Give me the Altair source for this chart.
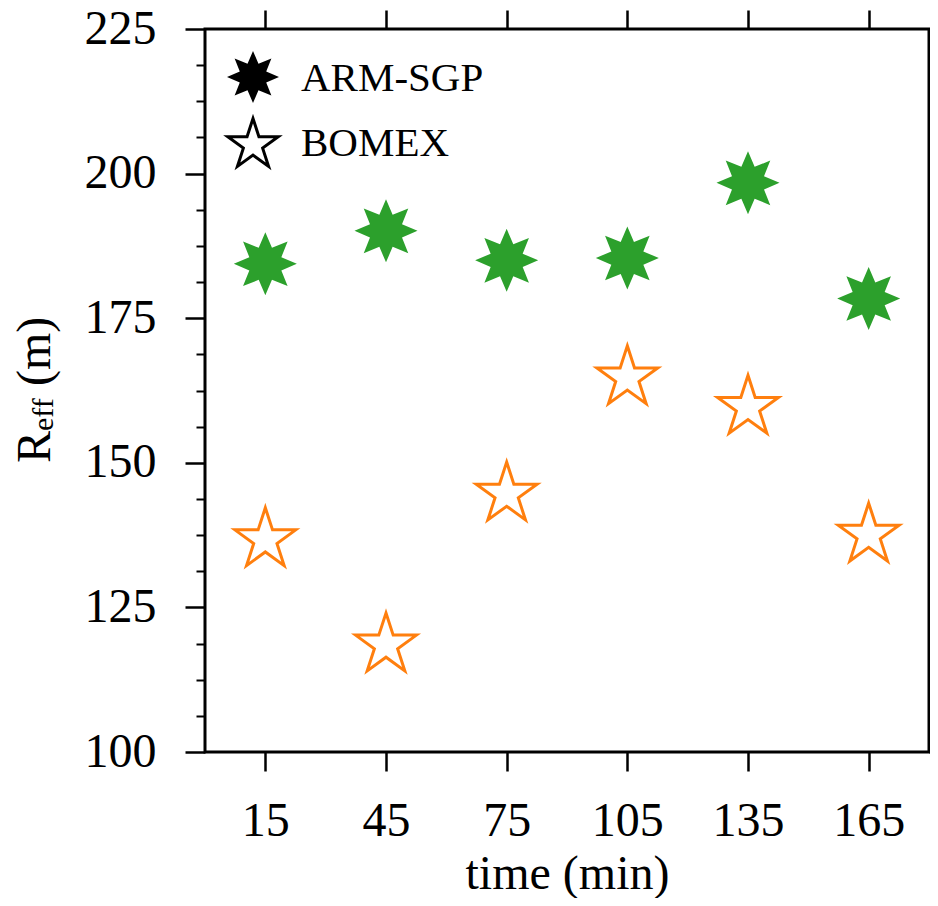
import math
import altair as alt
import pandas as pd

# ---------------- data ----------------
times = [15, 45, 75, 105, 135, 165]
arm_sgp = [184.4, 190.1, 185.0, 185.4, 198.4, 178.4]
bomex = [136.7, 118.5, 144.6, 164.7, 159.6, 137.5]
series_names = ["ARM-SGP", "BOMEX"]
y_major = [100, 125, 150, 175, 200, 225]
y_minor = [106.25, 112.5, 118.75, 131.25, 137.5, 143.75, 156.25, 162.5, 168.75,
           181.25, 187.5, 193.75, 206.25, 212.5, 218.75]
x_title = "time (min)"
y_title_parts = ["R", "eff", "(m)"]

FONT = "Liberation Serif"
GREEN = "#2ca02c"
ORANGE = "#ff7f0e"

df = pd.DataFrame({
    "time": times * 2,
    "value": arm_sgp + bomex,
    "series": [series_names[0]] * len(times) + [series_names[1]] * len(times),
})


def star_path(n, inner):
    pts = []
    for k in range(2 * n):
        a = math.pi * k / n
        r = 1.0 if k % 2 == 0 else inner
        pts.append((r * math.sin(a), -r * math.cos(a)))
    return "M" + "L".join(f"{x:.4f},{y:.4f}" for x, y in pts) + "Z"


STAR8 = star_path(8, 0.55)
STAR5 = star_path(5, 0.382)

xs = alt.Scale(domain=[0, 180], nice=False, zero=False)
ys = alt.Scale(domain=[100, 225], nice=False, zero=False)

ax_bottom = alt.Axis(orient="bottom", values=times, tickSize=19, tickWidth=2.5,
                     labelPadding=26, title=x_title, titleY=136,
                     titleBaseline="alphabetic", domain=False, grid=False)
ax_top = alt.Axis(orient="top", values=times, tickSize=19, tickWidth=2.5,
                  labels=False, title=None, domain=False, grid=False)
ax_left = alt.Axis(orient="left", values=y_major, tickSize=20, tickWidth=2.5,
                   labelPadding=29, title=None, domain=False, grid=False)
ax_left_minor = alt.Axis(orient="left", values=y_minor, tickSize=9, tickWidth=2,
                         labels=False, title=None, domain=False, grid=False)
ax_right = alt.Axis(orient="right", values=y_major, tickSize=20, tickWidth=2.5,
                    labels=False, title=None, domain=False, grid=False)
ax_right_minor = alt.Axis(orient="right", values=y_minor, tickSize=9, tickWidth=2,
                          labels=False, title=None, domain=False, grid=False)

base = alt.Chart(df)

arm_layer = base.transform_filter(alt.datum.series == series_names[0]).mark_point(
    shape=STAR8, filled=True, size=3969, color=GREEN, opacity=1, strokeWidth=0
).encode(
    x=alt.X("time:Q", scale=xs, axis=ax_bottom),
    y=alt.Y("value:Q", scale=ys, axis=ax_left),
)

bomex_layer = base.transform_filter(alt.datum.series == series_names[1]).mark_point(
    shape=STAR5, filled=False, size=4096, color=ORANGE, opacity=1, strokeWidth=3,
    strokeJoin="miter"
).encode(
    x=alt.X("time:Q", scale=xs, axis=ax_top),
    y=alt.Y("value:Q", scale=ys, axis=ax_left_minor),
)

axis_layer1 = base.mark_point(opacity=0).encode(
    x=alt.X("time:Q", scale=xs, axis=None),
    y=alt.Y("value:Q", scale=ys, axis=ax_right),
)
axis_layer2 = base.mark_point(opacity=0).encode(
    x=alt.X("time:Q", scale=xs, axis=None),
    y=alt.Y("value:Q", scale=ys, axis=ax_right_minor),
)

one = pd.DataFrame({"k": [0]})

# legend (inside plot, black symbols)
leg_sym1 = alt.Chart(one).mark_point(
    shape=STAR8, filled=True, size=2704, color="black", opacity=1, strokeWidth=0
).encode(x=alt.value(48), y=alt.value(48))
leg_sym2 = alt.Chart(one).mark_point(
    shape=STAR5, filled=False, size=2809, color="black", opacity=1, strokeWidth=3,
    strokeJoin="miter"
).encode(x=alt.value(48), y=alt.value(116))
leg_txt1 = alt.Chart(one).mark_text(
    text=series_names[0], font=FONT, fontSize=41, align="left", baseline="alphabetic",
    color="black"
).encode(x=alt.value(96), y=alt.value(62))
leg_txt2 = alt.Chart(one).mark_text(
    text=series_names[1], font=FONT, fontSize=41, align="left", baseline="alphabetic",
    color="black"
).encode(x=alt.value(96), y=alt.value(127))

# y-axis title with subscript
yt1 = alt.Chart(one).mark_text(
    text=y_title_parts[0], font=FONT, fontSize=48, angle=270, align="left",
    baseline="alphabetic", color="black"
).encode(x=alt.value(-155), y=alt.value(434))
yt2 = alt.Chart(one).mark_text(
    text=y_title_parts[1], font=FONT, fontSize=30, angle=270, align="left",
    baseline="alphabetic", color="black"
).encode(x=alt.value(-152), y=alt.value(402))
yt3 = alt.Chart(one).mark_text(
    text=y_title_parts[2], font=FONT, fontSize=48, angle=270, align="left",
    baseline="alphabetic", color="black"
).encode(x=alt.value(-155), y=alt.value(357))

chart = alt.layer(
    arm_layer, bomex_layer, axis_layer1, axis_layer2,
    leg_sym1, leg_sym2, leg_txt1, leg_txt2, yt1, yt2, yt3
).resolve_axis(
    x="independent", y="independent"
).properties(
    width=724, height=723,
    autosize=alt.AutoSizeParams(type="none"),
    padding={"left": 197, "top": 21, "right": 1, "bottom": 146},
).configure_view(
    stroke="black", strokeWidth=3
).configure_axis(
    labelFont=FONT, labelFontSize=48, labelColor="black",
    tickColor="black", titleFont=FONT, titleFontSize=48,
    titleFontWeight="normal", titleColor="black"
)

chart.save("out.html", embed_options={"renderer": "svg", "actions": False})
